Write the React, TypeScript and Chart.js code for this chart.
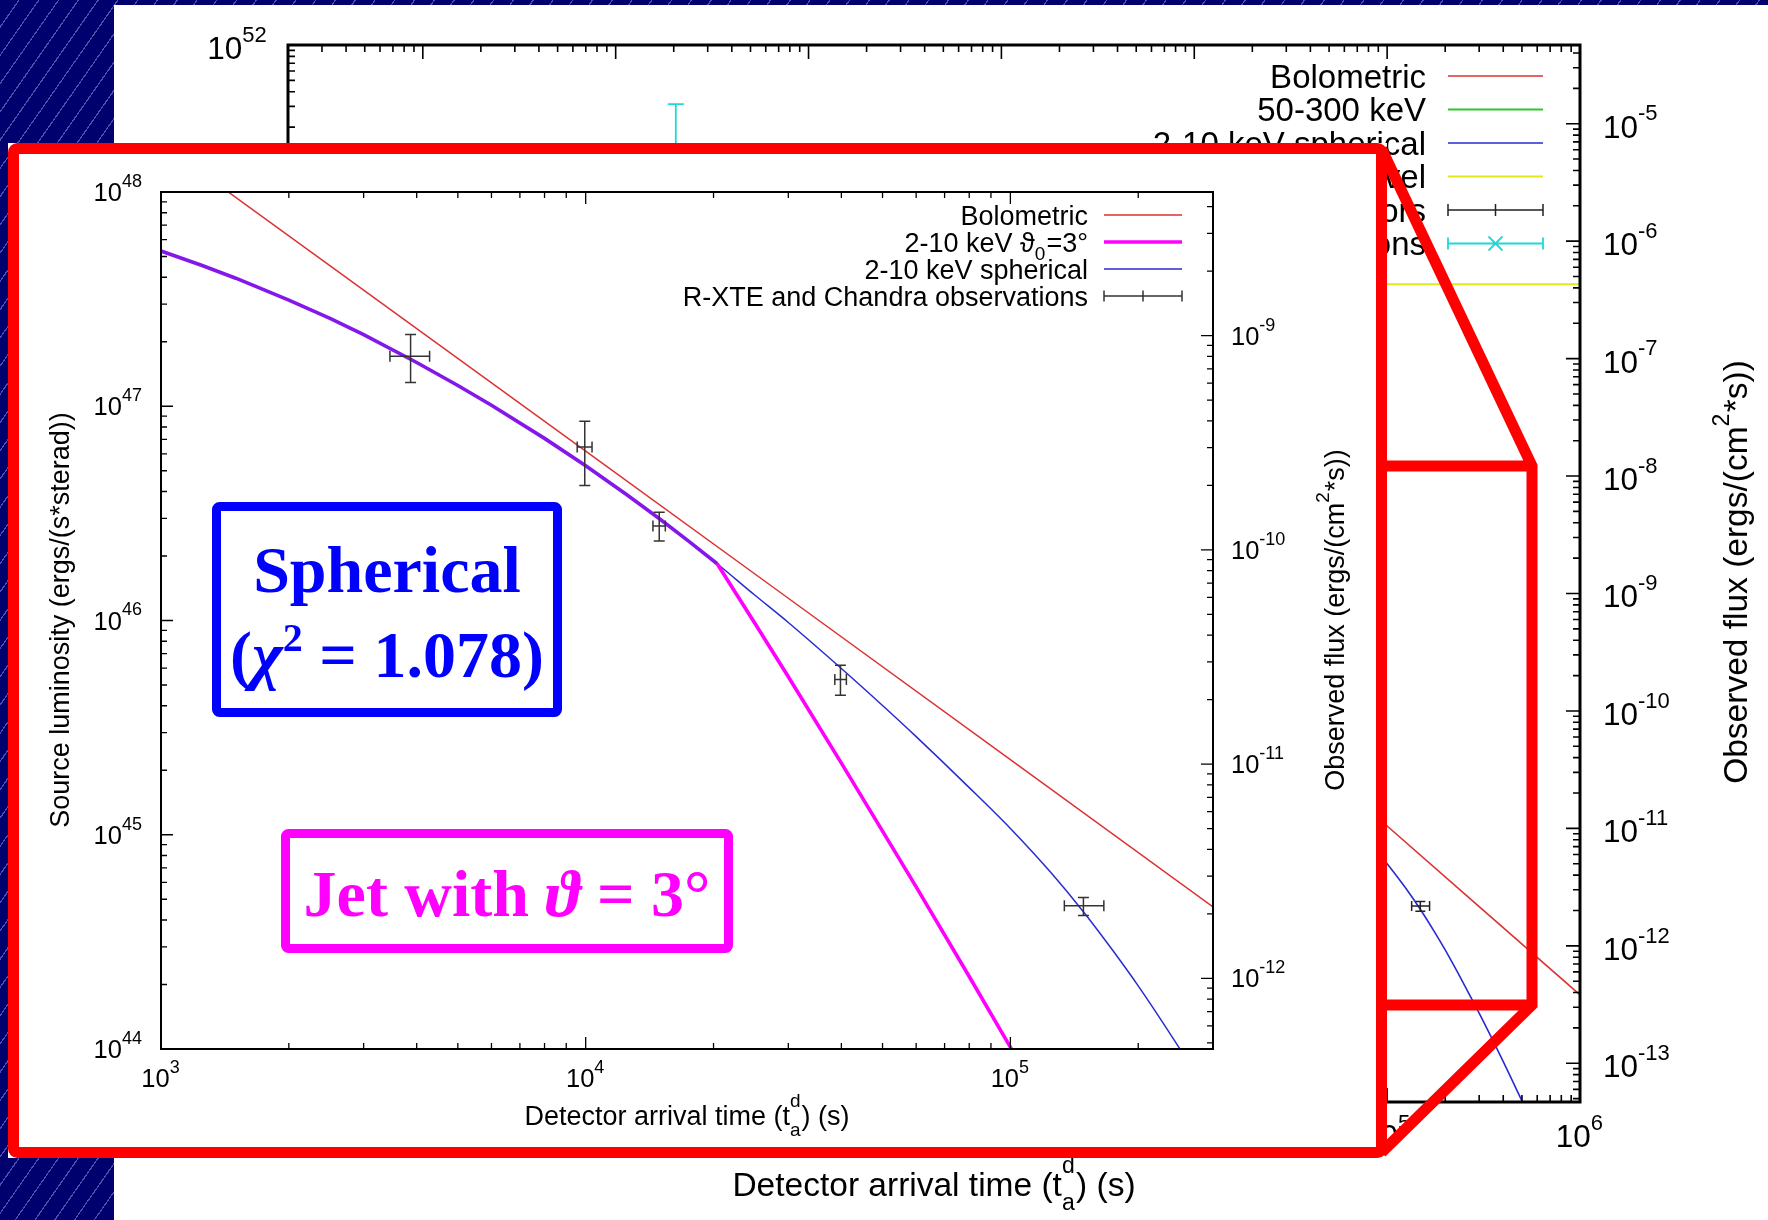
import React, { useEffect, useRef } from 'react';
import { Chart, registerables } from 'chart.js';

Chart.register(...registerables);

// ---------------- axis ranges ----------------
const mainTimeRange = [0.2, 1e6];
const mainLumRange = [1e43, 1e52];
const mainFluxRange = [4.68e-14, 4.68e-5];
const insetTimeRange = [1e3, 3e5];
const insetLumRange = [1e44, 1e48];
const insetFluxRange = [4.68e-13, 4.68e-9];

// ---------------- series ----------------
const bolometricTime = [1e3, 3e3, 1e4, 3e4, 1e5, 3e5, 1e6];
const bolometricLum = [1.69e48, 3.48e47, 6.17e46, 1.27e46, 2.24e45, 4.61e44, 8.17e43];

const sphericalTime = [1000, 1250, 1500, 2000, 2500, 3000, 4000, 5000, 6000, 8000, 10000, 12500, 15000, 17500, 20400, 25000, 30000, 40000, 50000, 60000, 80000, 100000, 125000, 150000, 175000, 200000, 250000, 300000, 400000, 500000, 600000];
const sphericalLum = [5.3e47, 4.54e47, 3.96e47, 3.13e47, 2.57e47, 2.16e47, 1.6e47, 1.25e47, 1.01e47, 7.08e46, 5.27e46, 3.86e46, 2.96e46, 2.34e46, 1.84e46, 1.315e46, 9.79e45, 5.97e45, 4.01e45, 2.87e45, 1.66e45, 1.07e45, 6.61e44, 4.27e44, 2.85e44, 1.97e44, 1.01e44, 5.7e43, 2.21e43, 1.02e43, 5.36e42];

const jetTime = [1000, 1250, 1500, 2000, 2500, 3000, 4000, 5000, 6000, 8000, 10000, 12500, 15000, 17500, 20400, 25000, 30000, 40000, 50000, 60000, 80000, 100000, 120000];
const jetLum = [5.3e47, 4.54e47, 3.96e47, 3.13e47, 2.57e47, 2.16e47, 1.6e47, 1.25e47, 1.01e47, 7.08e46, 5.27e46, 3.86e46, 2.96e46, 2.34e46, 1.84e46, 9.73e45, 5.46e45, 2.16e45, 1.04e45, 5.71e44, 2.18e44, 1.02e44, 5.43e43];

const obsTime = [3870, 9950, 14900, 39800, 148600];
const obsTimeLo = [3460, 9550, 14400, 38600, 134000];
const obsTimeHi = [4290, 10350, 15400, 41100, 166000];
const obsLum = [1.71e47, 6.46e46, 2.76e46, 5.3e45, 4.66e44];
const obsLumLo = [1.29e47, 4.27e46, 2.35e46, 4.48e45, 4.2e44];
const obsLumHi = [2.16e47, 8.5e46, 3.2e46, 6.18e45, 5.1e44];

const batseTime = [20.5];
const batseTimeLo = [19.5];
const batseTimeHi = [21.5];
const batseLum = [6e50];
const batseLumLo = [2e50];
const batseLumHi = [3.14e51];

const noiseTime = [0.2, 1e6];
const noiseFlux = [4.3e-7, 4.3e-7];

// ---------------- texts ----------------
const timeTitle = 'Detector arrival time (t_{a}^{d}) (s)';
const lumTitle = 'Source luminosity (ergs/(s*sterad))';
const fluxTitle = 'Observed flux (ergs/(cm^{2}*s))';
const mainLegendLabels = ['Bolometric', '50-300 keV', '2-10 keV spherical', 'BATSE noise level', 'R-XTE and Chandra errors', 'BATSE observations'];
const insetLegendLabels = ['Bolometric', '2-10 keV ϑ_{0}=3°', '2-10 keV spherical', 'R-XTE and Chandra observations'];

// ---------------- colours ----------------
const RED = '#dc3232';
const BLUE = '#2a2ad2';
const MAGENTA = '#ff00ff';
const PURPLE = '#8418ea';
const GREEN = '#2ec82e';
const YELLOW = '#e6e61e';
const CYAN = '#20d8d8';

const FAMILY = "'Liberation Sans', Arial, Helvetica, sans-serif";

// ---------------- helpers ----------------
const zip = (xs: number[], ys: number[]) => xs.map((x, i) => ({ x, y: ys[i] }));
const errPoints = (t: number[], tlo: number[], thi: number[], l: number[], llo: number[], lhi: number[]) =>
  t.map((x, i) => ({ x, y: l[i], xMin: tlo[i], xMax: thi[i], yMin: llo[i], yMax: lhi[i] }));

type Seg = { t: string; t2?: string; k?: 'sup' | 'sub' | 'subsup' };

function parseRich(s: string): Seg[] {
  const segs: Seg[] = [];
  let buf = '';
  let i = 0;
  while (i < s.length) {
    const c = s[i];
    if ((c === '_' || c === '^') && s[i + 1] === '{') {
      if (buf) { segs.push({ t: buf }); buf = ''; }
      const end = s.indexOf('}', i);
      const inner = s.slice(i + 2, end);
      i = end + 1;
      if (c === '_' && s[i] === '^' && s[i + 1] === '{') {
        const end2 = s.indexOf('}', i);
        segs.push({ t: inner, t2: s.slice(i + 2, end2), k: 'subsup' });
        i = end2 + 1;
      } else {
        segs.push({ t: inner, k: c === '_' ? 'sub' : 'sup' });
      }
    } else {
      buf += c;
      i++;
    }
  }
  if (buf) segs.push({ t: buf });
  return segs;
}

function segWidth(ctx: CanvasRenderingContext2D, s: Seg, size: number) {
  if (!s.k) {
    ctx.font = `${size}px ${FAMILY}`;
    return ctx.measureText(s.t).width;
  }
  ctx.font = `${Math.round(size * 0.7)}px ${FAMILY}`;
  const w1 = ctx.measureText(s.t).width;
  const w2 = s.t2 ? ctx.measureText(s.t2).width : 0;
  return Math.max(w1, w2) + size * 0.04;
}

function drawRich(ctx: CanvasRenderingContext2D, text: string, x: number, y: number, align: string, size: number, sx = 1, sy = 1, rotate = false, color = '#000') {
  const segs = parseRich(text);
  const widths = segs.map((s) => segWidth(ctx, s, size));
  const total = widths.reduce((a, b) => a + b, 0) * sx;
  ctx.save();
  ctx.translate(x, y);
  if (rotate) ctx.rotate(-Math.PI / 2);
  const start = align === 'left' ? 0 : align === 'right' ? -total : -total / 2;
  ctx.translate(start, 0);
  ctx.scale(sx, sy);
  ctx.fillStyle = color;
  ctx.textAlign = 'left';
  ctx.textBaseline = 'alphabetic';
  let px = 0;
  segs.forEach((s, i) => {
    if (!s.k) {
      ctx.font = `${size}px ${FAMILY}`;
      ctx.fillText(s.t, px, 0);
    } else {
      ctx.font = `${Math.round(size * 0.7)}px ${FAMILY}`;
      if (s.k === 'sup') ctx.fillText(s.t, px, -size * 0.55);
      else if (s.k === 'sub') ctx.fillText(s.t, px, size * 0.3);
      else {
        ctx.fillText(s.t, px, size * 0.42);
        ctx.fillText(s.t2 || '', px, -size * 0.68);
      }
    }
    px += widths[i];
  });
  ctx.restore();
}

function logTicks(min: number, max: number) {
  const out: { v: number; major: boolean }[] = [];
  const e0 = Math.floor(Math.log10(min));
  const e1 = Math.ceil(Math.log10(max));
  for (let e = e0; e <= e1; e++) {
    for (let m = 1; m <= 9; m++) {
      const v = m * Math.pow(10, e);
      if (v >= min * 0.9999 && v <= max * 1.0001) out.push({ v, major: m === 1 });
    }
  }
  return out;
}

const errorBarPlugin = {
  id: 'errbars',
  afterDatasetsDraw(chart: any) {
    const ctx = chart.ctx;
    const a = chart.chartArea;
    ctx.save();
    ctx.beginPath();
    ctx.rect(a.left, a.top, a.right - a.left, a.bottom - a.top);
    ctx.clip();
    chart.data.datasets.forEach((ds: any) => {
      if (!ds.errorBars) return;
      const xs = chart.scales[ds.xAxisID || 'x'];
      const ys = chart.scales[ds.yAxisID || 'y'];
      ctx.strokeStyle = ds.borderColor;
      ctx.lineWidth = ds.errWidth;
      const cap = ds.errCap;
      ds.data.forEach((p: any) => {
        const x = xs.getPixelForValue(p.x);
        const y = ys.getPixelForValue(p.y);
        const x0 = xs.getPixelForValue(p.xMin);
        const x1 = xs.getPixelForValue(p.xMax);
        const y0 = ys.getPixelForValue(p.yMin);
        const y1 = ys.getPixelForValue(p.yMax);
        ctx.beginPath();
        ctx.moveTo(x, y0); ctx.lineTo(x, y1);
        ctx.moveTo(x - cap, y0); ctx.lineTo(x + cap, y0);
        ctx.moveTo(x - cap, y1); ctx.lineTo(x + cap, y1);
        ctx.moveTo(x0, y); ctx.lineTo(x1, y);
        ctx.moveTo(x0, y - cap); ctx.lineTo(x0, y + cap);
        ctx.moveTo(x1, y - cap); ctx.lineTo(x1, y + cap);
        if (ds.errMarker === 'x') {
          const m = ds.markerSize;
          ctx.moveTo(x - m, y - m); ctx.lineTo(x + m, y + m);
          ctx.moveTo(x - m, y + m); ctx.lineTo(x + m, y - m);
        }
        ctx.stroke();
      });
    });
    ctx.restore();
  },
};

function framePlugin(st: any) {
  return {
    id: 'frame',
    afterDraw(chart: any) {
      const ctx = chart.ctx;
      const a = chart.chartArea;
      const xs = chart.scales.x;
      const ys = chart.scales.y;
      const y2 = chart.scales.y2;
      ctx.save();
      ctx.strokeStyle = '#000';
      ctx.lineWidth = st.tickW;
      ctx.beginPath();
      const xt = logTicks(xs.min, xs.max);
      const yt = logTicks(ys.min, ys.max);
      const y2t = logTicks(y2.min, y2.max);
      xt.forEach((t) => {
        const p = xs.getPixelForValue(t.v);
        const len = t.major ? st.major : st.minor;
        ctx.moveTo(p, a.bottom); ctx.lineTo(p, a.bottom - len);
        ctx.moveTo(p, a.top); ctx.lineTo(p, a.top + len);
      });
      yt.forEach((t) => {
        const p = ys.getPixelForValue(t.v);
        const len = t.major ? st.major : st.minor;
        ctx.moveTo(a.left, p); ctx.lineTo(a.left + len, p);
      });
      y2t.forEach((t) => {
        const p = y2.getPixelForValue(t.v);
        const len = t.major ? st.major : st.minor;
        ctx.moveTo(a.right, p); ctx.lineTo(a.right - len, p);
      });
      ctx.stroke();
      ctx.lineWidth = st.border;
      ctx.strokeRect(a.left, a.top, a.right - a.left, a.bottom - a.top);

      // tick labels
      xt.filter((t) => t.major).forEach((t) => {
        const e = Math.round(Math.log10(t.v));
        drawRich(ctx, `10^{${e}}`, xs.getPixelForValue(t.v), a.bottom + st.xLabelDy, 'center', st.tickFont, st.tickSx);
      });
      yt.filter((t) => t.major).forEach((t) => {
        const e = Math.round(Math.log10(t.v));
        drawRich(ctx, `10^{${e}}`, a.left - st.yLabelGap, ys.getPixelForValue(t.v) + st.yLabelDy, 'right', st.tickFont, st.tickSx);
      });
      y2t.filter((t) => t.major).forEach((t) => {
        const e = Math.round(Math.log10(t.v));
        drawRich(ctx, `10^{${e}}`, a.right + st.y2LabelGap, y2.getPixelForValue(t.v) + st.yLabelDy, 'left', st.tickFont, st.tickSx);
      });

      // axis titles
      drawRich(ctx, st.xTitle.text, st.xTitle.x, st.xTitle.y, 'center', st.titleFont, st.titleSx, 1);
      drawRich(ctx, st.yTitle.text, st.yTitle.x, st.yTitle.y, 'center', st.titleFont, st.titleSx, 1, true);
      drawRich(ctx, st.y2Title.text, st.y2Title.x, st.y2Title.y, 'center', st.titleFont, st.titleSx, 1, true);

      // legend
      const L = st.legend;
      const entries = chart.data.datasets
        .filter((d: any) => d.legendRank !== undefined)
        .sort((p: any, q: any) => p.legendRank - q.legendRank);
      entries.forEach((d: any, i: number) => {
        const y = L.y0 + i * L.dy;
        drawRich(ctx, d.label, L.textRight, y + L.baseDy, 'right', L.font, L.sx);
        ctx.strokeStyle = d.borderColor;
        ctx.beginPath();
        if (d.errorBars) {
          ctx.lineWidth = d.errWidth;
          ctx.moveTo(L.s0, y); ctx.lineTo(L.s1, y);
          ctx.moveTo(L.s0, y - L.cap); ctx.lineTo(L.s0, y + L.cap);
          ctx.moveTo(L.s1, y - L.cap); ctx.lineTo(L.s1, y + L.cap);
          const m = (L.s0 + L.s1) / 2;
          if (d.errMarker === 'x') {
            const r = d.markerSize;
            ctx.moveTo(m - r, y - r); ctx.lineTo(m + r, y + r);
            ctx.moveTo(m - r, y + r); ctx.lineTo(m + r, y - r);
          } else {
            ctx.moveTo(m, y - L.cap); ctx.lineTo(m, y + L.cap);
          }
        } else {
          ctx.lineWidth = d.borderWidth;
          ctx.moveTo(L.s0, y); ctx.lineTo(L.s1, y);
        }
        ctx.stroke();
      });
      ctx.restore();
    },
  };
}

const mainStyle = {
  tickFont: 31.5, tickSx: 1.0, titleFont: 33.5, titleSx: 1.0,
  border: 3, tickW: 1.6, major: 14, minor: 7,
  xLabelDy: 45, yLabelGap: 20, yLabelDy: 14, y2LabelGap: 23,
  xTitle: { text: timeTitle, x: 934, y: 1196 },
  yTitle: { text: lumTitle, x: 150, y: 574 },
  y2Title: { text: fluxTitle, x: 1747, y: 572 },
  legend: { y0: 76, dy: 33.5, textRight: 1426, s0: 1448, s1: 1543, font: 33, sx: 1.0, cap: 6, baseDy: 11.5 },
};

const insetStyle = {
  tickFont: 25.5, tickSx: 1.0, titleFont: 27, titleSx: 1.0,
  border: 2, tickW: 1.3, major: 12, minor: 6,
  xLabelDy: 38, yLabelGap: 18, yLabelDy: 9, y2LabelGap: 18,
  xTitle: { text: timeTitle, x: 687, y: 1125 },
  yTitle: { text: lumTitle, x: 69, y: 620 },
  y2Title: { text: fluxTitle, x: 1344, y: 620 },
  legend: { y0: 215, dy: 27, textRight: 1088, s0: 1104, s1: 1182, font: 27, sx: 1.0, cap: 5.5, baseDy: 9.5 },
};

function baseOptions(pad: any, tr: number[], lr: number[], fr: number[]) {
  return {
    responsive: false,
    maintainAspectRatio: false,
    animation: false,
    devicePixelRatio: 1,
    events: [],
    layout: { padding: pad },
    plugins: { legend: { display: false }, tooltip: { enabled: false }, title: { display: false } },
    elements: { line: { tension: 0 }, point: { radius: 0 } },
    scales: {
      x: { type: 'logarithmic', min: tr[0], max: tr[1], display: false },
      y: { type: 'logarithmic', min: lr[0], max: lr[1], display: false },
      y2: { type: 'logarithmic', min: fr[0], max: fr[1], display: false, position: 'right' },
    },
  };
}

function mainConfig(): any {
  return {
    type: 'scatter',
    data: {
      datasets: [
        { label: mainLegendLabels[0], data: zip(bolometricTime, bolometricLum), borderColor: RED, borderWidth: 1.6, showLine: true, pointRadius: 0, legendRank: 0, order: 4 },
        { label: mainLegendLabels[1], data: [], borderColor: GREEN, borderWidth: 2, showLine: true, pointRadius: 0, legendRank: 1, order: 5 },
        { label: mainLegendLabels[2], data: zip(sphericalTime, sphericalLum), borderColor: BLUE, borderWidth: 1.6, showLine: true, cubicInterpolationMode: 'monotone', pointRadius: 0, legendRank: 2, order: 3 },
        { label: mainLegendLabels[3], data: zip(noiseTime, noiseFlux), yAxisID: 'y2', borderColor: YELLOW, borderWidth: 2, showLine: true, pointRadius: 0, legendRank: 3, order: 6 },
        { label: mainLegendLabels[4], data: errPoints(obsTime, obsTimeLo, obsTimeHi, obsLum, obsLumLo, obsLumHi), borderColor: '#222', errorBars: true, errWidth: 1.5, errCap: 5, showLine: false, pointRadius: 0, legendRank: 4, order: 1 },
        { label: mainLegendLabels[5], data: errPoints(batseTime, batseTimeLo, batseTimeHi, batseLum, batseLumLo, batseLumHi), borderColor: CYAN, errorBars: true, errMarker: 'x', markerSize: 7, errWidth: 1.8, errCap: 8, showLine: false, pointRadius: 0, legendRank: 5, order: 2 },
      ],
    },
    options: baseOptions({ left: 288, top: 45, right: 188, bottom: 118 }, mainTimeRange, mainLumRange, mainFluxRange),
    plugins: [errorBarPlugin, framePlugin(mainStyle)],
  };
}

function insetConfig(): any {
  return {
    type: 'scatter',
    data: {
      datasets: [
        { label: insetLegendLabels[0], data: zip(bolometricTime, bolometricLum), borderColor: RED, borderWidth: 1.5, showLine: true, pointRadius: 0, legendRank: 0, order: 4 },
        {
          label: insetLegendLabels[1], data: zip(jetTime, jetLum), borderColor: MAGENTA, borderWidth: 3.6, showLine: true, pointRadius: 0, legendRank: 1, order: 2,
          segment: {
            borderColor: (c: any) => {
              const i = c.p1DataIndex;
              return jetTime[i] === sphericalTime[i] && jetLum[i] === sphericalLum[i] ? PURPLE : MAGENTA;
            },
          },
        },
        { label: insetLegendLabels[2], data: zip(sphericalTime, sphericalLum), borderColor: BLUE, borderWidth: 1.5, showLine: true, cubicInterpolationMode: 'monotone', pointRadius: 0, legendRank: 2, order: 3 },
        { label: insetLegendLabels[3], data: errPoints(obsTime, obsTimeLo, obsTimeHi, obsLum, obsLumLo, obsLumHi), borderColor: '#333', errorBars: true, errWidth: 1.5, errCap: 5.5, showLine: false, pointRadius: 0, legendRank: 3, order: 1 },
      ],
    },
    options: baseOptions({ left: 161, top: 192, right: 555, bottom: 171 }, insetTimeRange, insetLumRange, insetFluxRange),
    plugins: [errorBarPlugin, framePlugin(insetStyle)],
  };
}

const SERIF = "'Liberation Serif', 'DejaVu Serif', 'Times New Roman', serif";

export default function App() {
  const mainRef = useRef<HTMLCanvasElement>(null);
  const insetRef = useRef<HTMLCanvasElement>(null);

  useEffect(() => {
    const c1 = new Chart(mainRef.current as HTMLCanvasElement, mainConfig());
    const c2 = new Chart(insetRef.current as HTMLCanvasElement, insetConfig());
    return () => {
      c1.destroy();
      c2.destroy();
    };
  }, []);

  const abs: any = { position: 'absolute', left: 0, top: 0 };

  return (
    <div
      style={{
        position: 'absolute', left: 0, top: 0, width: 1768, height: 1220, overflow: 'hidden',
        backgroundColor: '#00006e',
        backgroundImage: 'repeating-linear-gradient(125deg, #00006e 0px, #00006e 15px, #5050ac 15px, #5050ac 16.2px)',
      }}
    >
      <div style={{ position: 'absolute', left: 114, top: 5, width: 1768 - 114, height: 1220 - 5, background: '#ffffff' }} />
      <canvas ref={mainRef} width={1768} height={1220} style={abs} />
      <div style={{ position: 'absolute', left: 8, top: 143, width: 1379, height: 1015, background: '#ffffff' }} />
      <canvas ref={insetRef} width={1768} height={1220} style={abs} />
      <svg width={1768} height={1220} style={{ ...abs, pointerEvents: 'none' }}>
        <rect x={216.5} y={506.5} width={341} height={206} fill="#ffffff" stroke="#0000ff" strokeWidth={9} rx={3} />
        <text x={387} y={592} textAnchor="middle" fontFamily={SERIF} fontWeight="bold" fontSize={66} fill="#0000ff">Spherical</text>
        <text x={387} y={677} textAnchor="middle" fontFamily={SERIF} fontWeight="bold" fontSize={66} fill="#0000ff">
          (<tspan fontStyle="italic">χ</tspan><tspan dy={-26} fontSize={40}>2</tspan><tspan dy={26}> = 1.078)</tspan>
        </text>
        <rect x={285.5} y={833.5} width={443} height={115} fill="#ffffff" stroke="#ff00ff" strokeWidth={9} rx={3} />
        <text x={507} y={916} textAnchor="middle" fontFamily={SERIF} fontWeight="bold" fontSize={66} fill="#ff00ff">
          Jet with <tspan fontStyle="italic">ϑ</tspan> = 3°
        </text>
        <rect x={13.5} y={148.5} width={1368} height={1004} fill="none" stroke="#ff0000" strokeWidth={11} rx={4} />
        <path
          d="M1381.5 148.5 L1532 466 L1532 1005 L1381.5 1152.5 M1381.5 466 L1532 466 M1381.5 1005 L1532 1005"
          stroke="#ff0000" strokeWidth={11} fill="none"
        />
      </svg>
    </div>
  );
}
